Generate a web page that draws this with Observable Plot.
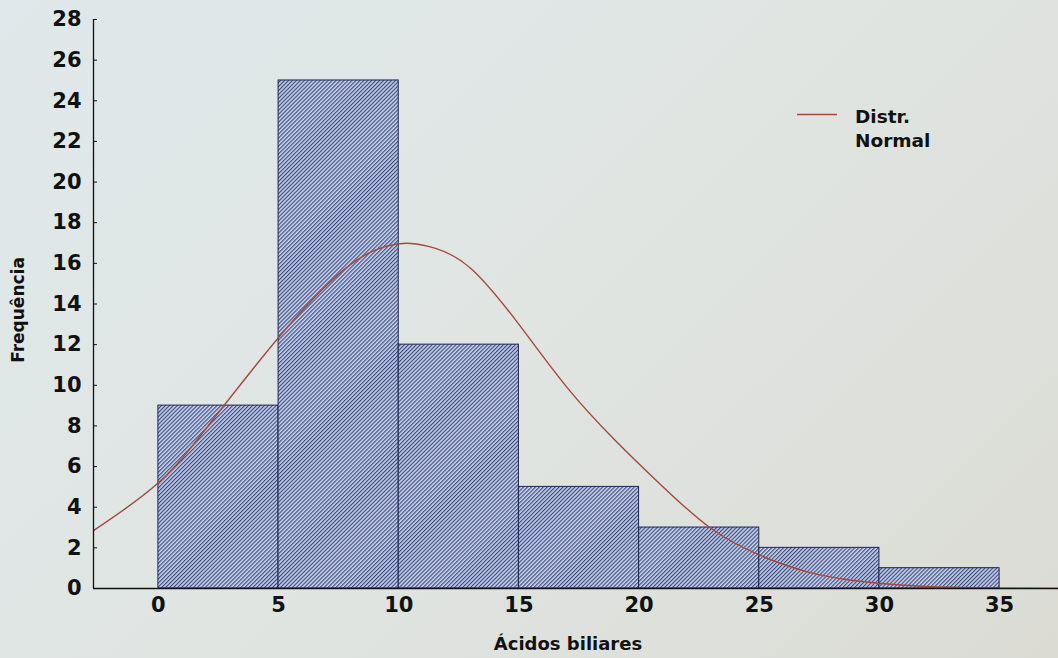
<!DOCTYPE html>
<html>
<head>
<meta charset="utf-8">
<script src="https://cdn.jsdelivr.net/npm/d3@7"></script>
<script src="https://cdn.jsdelivr.net/npm/@observablehq/plot@0.6"></script>
<style>
  html, body { margin: 0; padding: 0; }
  body {
    width: 1058px; height: 658px; overflow: hidden; position: relative;
    background: linear-gradient(135deg, #dfe8ea 0%, #e0e5e2 50%, #dbdbd4 100%);
    font-family: "DejaVu Sans", sans-serif;
  }
  #chart { position: absolute; left: 0; top: 0; }
  #legend { position: absolute; left: 0; top: 0; pointer-events: none; }
</style>
</head>
<body>
<div id="chart"></div>
<svg id="legend" width="1058" height="658">
  <line x1="797" x2="837" y1="114.5" y2="114.5" stroke="#a5483c" stroke-width="1.4"></line>
  <text x="855" y="123" font-family="DejaVu Sans" font-weight="bold" font-size="18.5" fill="#111">Distr.</text>
  <text x="855" y="147" font-family="DejaVu Sans" font-weight="bold" font-size="18.5" fill="#111">Normal</text>
</svg>
<script>
// Histogram bins (Ácidos biliares) and frequencies
const binStart = [0, 5, 10, 15, 20, 25, 30];
const binEnd   = [5, 10, 15, 20, 25, 30, 35];
const counts   = [9, 25, 12, 5, 3, 2, 1];

// Normal distribution curve
const curveX = [-2.7, 0, 2, 4, 6, 8, 9.5, 10.5, 11.5, 13, 15, 17, 19, 21, 23, 25, 27, 29, 31, 33, 35, 37.5];
const curveY = [2.85, 5.2, 7.9, 10.9, 13.7, 15.95, 16.85, 16.98, 16.75, 15.75, 13.0, 9.9, 7.3, 5.0, 2.95, 1.65, 0.82, 0.38, 0.16, 0.06, 0.02, 0.0];

// Axis ticks
const xTicks = [0, 5, 10, 15, 20, 25, 30, 35];
const yTicks = [0, 2, 4, 6, 8, 10, 12, 14, 16, 18, 20, 22, 24, 26, 28];
const xDomain = [-2.7, 37.45];
const yDomain = [0, 28];

const bins = binStart.map((s, i) => ({x0: s, x1: binEnd[i], count: counts[i]}));
const curve = curveX.map((x, i) => ({x, y: curveY[i]}));

const defs = () => {
  const d = d3.create("svg:defs");
  const p = d.append("pattern")
    .attr("id", "hatch")
    .attr("patternUnits", "userSpaceOnUse")
    .attr("width", 2.8).attr("height", 2.8)
    .attr("patternTransform", "rotate(45)");
  p.append("rect").attr("width", 2.8).attr("height", 2.8).attr("fill", "#c9d3e8");
  p.append("line").attr("x1", 0.6).attr("x2", 0.6).attr("y1", 0).attr("y2", 2.8)
    .attr("stroke", "#2c3b78").attr("stroke-width", 1.05);
  return d.node();
};

const chart = Plot.plot({
  width: 1058,
  height: 658,
  marginLeft: 93,
  marginRight: 0,
  marginTop: 19,
  marginBottom: 70,
  x: {domain: xDomain},
  y: {domain: yDomain},
  style: {
    fontFamily: "DejaVu Sans",
    fontSize: "21px",
    fontWeight: "bold",
    background: "transparent",
    color: "#111"
  },
  marks: [
    defs,
    Plot.rectY(bins, {x1: "x0", x2: "x1", y: "count", fill: "url(#hatch)", stroke: "#1c2555", strokeWidth: 1}),
    Plot.line(curve, {x: "x", y: "y", stroke: "#a5483c", strokeWidth: 1.4, curve: "natural", clip: true}),
    Plot.ruleX([xDomain[0]], {stroke: "#111", strokeWidth: 1.3}),
    Plot.ruleY([0], {stroke: "#111", strokeWidth: 1.3}),
    Plot.axisY({ticks: yTicks, tickSize: -4, tickPadding: 16, label: null, stroke: "#111", fontSize: 21}),
    Plot.axisX({ticks: xTicks, tickSize: 0, tickPadding: 9, label: null, fontSize: 21}),
    Plot.text(["Frequência"], {frameAnchor: "left", textAnchor: "middle", lineAnchor: "middle", rotate: -90, dx: -75, dy: 6, fontSize: 17, fill: "#111"}),
    Plot.text(["Ácidos biliares"], {frameAnchor: "bottom", textAnchor: "middle", lineAnchor: "middle", dx: -8, dy: 56, fontSize: 18, fill: "#111"})
  ]
});
document.getElementById("chart").appendChild(chart);
</script>
</body>
</html>
